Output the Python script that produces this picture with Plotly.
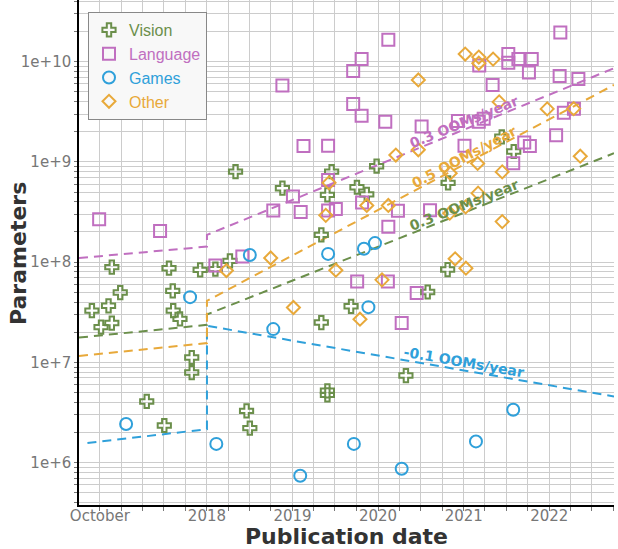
import math
import plotly.graph_objects as go

# scatter data
vision_dates = ["2016-08-28", "2016-10-06", "2016-11-07", "2016-11-21", "2016-12-27", "2016-11-21",
                "2017-04-19", "2017-07-03", "2017-07-23", "2017-08-08", "2017-08-10", "2017-09-08",
                "2017-10-28", "2017-10-28", "2017-12-03", "2018-02-06", "2018-04-09", "2018-05-03",
                "2018-06-19", "2018-07-03", "2018-11-19", "2019-06-17", "2019-05-30", "2019-05-04",
                "2019-10-03", "2019-11-14", "2019-12-26", "2020-10-26", "2021-06-12", "2021-08-02",
                "2020-10-24", "2019-05-04", "2019-09-08", "2020-07-31", "2019-05-30", "2019-05-30",
                "2020-04-29"]
vision_params = [3.29e7, 2.25e7, 3.67e7, 2.47e7, 4.98e7, 8.92e7,
                 4.08e6, 2.35e6, 8.71e7, 5.17e7, 3.29e7, 2.72e7,
                 1.12e7, 7.93e6, 8.38e7, 8.52e7, 1.03e8, 8.01e8,
                 3.29e6, 2.21e6, 5.47e8, 8.01e8, 4.69e8, 1.87e8,
                 5.59e8, 4.74e8, 9.06e8, 6.18e8, 1.78e9, 1.27e9,
                 8.44e7, 2.50e7, 3.63e7, 5.04e7, 5.21e6, 4.75e6,
                 7.40e6]

language_dates = ["2016-09-28", "2017-06-15", "2018-02-06", "2018-06-01", "2018-11-19", "2019-02-17",
                  "2018-10-11", "2019-01-03", "2019-02-05", "2019-06-02", "2019-06-02", "2019-06-02",
                  "2019-07-05", "2019-09-17", "2019-10-23", "2020-02-14", "2019-09-17", "2019-10-23",
                  "2020-02-01", "2020-07-05", "2020-12-07", "2021-03-06", "2021-03-27", "2021-01-04",
                  "2021-03-08", "2021-05-04", "2021-07-10", "2021-07-10", "2021-08-22", "2021-10-18",
                  "2021-10-06", "2022-02-17", "2022-02-14", "2022-05-05", "2022-03-04", "2022-04-16",
                  "2022-01-30", "2021-09-16", "2021-10-10", "2021-07-31", "2019-10-25", "2020-03-26",
                  "2020-08-10", "2020-02-14", "2019-10-04", "2020-02-12", "2020-06-14", "2020-04-11"]
language_params = [2.68e8, 2.05e8, 9.25e7, 1.14e8, 5.77e9, 1.44e9,
                   3.27e8, 4.51e8, 3.17e8, 1.45e9, 6.62e8, 3.27e8,
                   3.40e8, 8.08e9, 1.06e10, 1.65e10, 3.79e9, 2.89e9,
                   2.52e9, 2.25e9, 2.56e9, 2.51e9, 2.69e9, 1.45e9,
                   9.13e9, 5.86e9, 1.19e10, 9.77e9, 1.06e10, 1.06e10,
                   7.81e9, 1.95e10, 7.20e9, 6.72e9, 3.10e9, 3.40e9,
                   1.84e9, 1.56e9, 1.44e9, 9.71e8, 3.93e8, 3.25e8,
                   3.30e8, 2.26e8, 6.41e7, 6.41e7, 4.94e7, 2.47e7]

games_dates = ["2017-01-21", "2017-10-21", "2018-02-10", "2018-10-11", "2019-02-03", "2018-07-03",
               "2019-06-02", "2019-11-02", "2019-12-19", "2019-11-21", "2019-09-20", "2020-04-11",
               "2021-02-22", "2021-07-31"]
games_params = [2.43e6, 4.48e7, 1.54e6, 2.15e7, 7.40e5, 1.18e8,
                1.21e8, 1.36e8, 1.55e8, 3.56e7, 1.54e6, 8.70e5,
                1.63e6, 3.37e6]

other_dates = ["2018-03-25", "2018-09-30", "2019-01-05", "2020-06-21", "2021-01-07", "2021-03-06",
               "2021-05-06", "2021-03-06", "2021-06-01", "2021-12-23", "2022-04-15", "2020-03-17",
               "2020-06-21", "2019-06-06", "2019-11-14", "2020-02-14", "2019-05-23", "2021-03-01",
               "2021-06-14", "2020-11-04", "2021-03-03", "2021-01-09", "2020-11-02", "2021-06-14",
               "2022-05-13", "2019-07-05", "2020-11-25", "2021-01-10", "2020-01-18", "2019-10-16"]
other_params = [8.25e7, 1.10e8, 3.53e7, 6.57e9, 1.19e10, 1.11e10,
                1.06e10, 9.64e9, 3.97e9, 3.38e9, 3.40e9, 1.17e9,
                1.32e9, 6.18e8, 3.68e8, 3.68e8, 2.93e8, 9.66e8,
                7.95e8, 7.72e8, 4.88e8, 3.56e8, 3.08e8, 2.54e8,
                1.14e9, 8.32e7, 1.08e8, 8.71e7, 6.66e7, 2.70e7]

# trend lines: pre-2018 fit, jump at 2018, post-2018 fit
trend_dates = ["2016-07-04", "2018-01-01", "2018-01-01", "2022-10-04"]
games_trend_dates = ["2016-08-09", "2018-01-01", "2018-01-01", "2022-10-04"]
language_trend = [1.10e8, 1.43e8, 1.87e8, 8.60e9]
vision_trend = [1.77e7, 2.37e7, 3.01e7, 1.22e9]
other_trend = [1.16e7, 1.56e7, 4.12e7, 5.86e9]
games_trend = [1.57e6, 2.16e6, 2.32e7, 4.57e6]
trend_labels = ["0.3 OOMs/year", "0.3 OOMs/year", "-0.1 OOMs/year", "0.5 OOMs/year"]
label_date = "2021-01-01"

x_range = ["2016-07-04", "2022-10-04"]
y_range = [5.578, 10.615]

colors = {"Vision": "#6b8f4b", "Language": "#c06fc0", "Games": "#2fa0da", "Other": "#e8a93a"}
symbols = {"Vision": "cross-open", "Language": "square-open", "Games": "circle-open", "Other": "diamond-open"}
sizes = {"Vision": 11, "Language": 12, "Games": 12, "Other": 10}

W, H = 618, 549
M = dict(l=79, r=4, t=0, b=44)


def year_of(d):
    y, m, dd = (int(p) for p in d.split("-"))
    return y + (m - 1) / 12 + (dd - 1) / 365


fig = go.Figure()

series = [
    ("Vision", vision_dates, vision_params, trend_dates, vision_trend),
    ("Language", language_dates, language_params, trend_dates, language_trend),
    ("Games", games_dates, games_params, games_trend_dates, games_trend),
    ("Other", other_dates, other_params, trend_dates, other_trend),
]

# dashed trend lines first so markers sit on top
for name, _, _, tdates, tvals in series:
    fig.add_trace(go.Scatter(
        x=tdates, y=tvals, mode="lines", showlegend=False, hoverinfo="skip",
        line=dict(color=colors[name], width=2, dash="9px,6px"),
    ))

for name, dates, vals, _, _ in series:
    fig.add_trace(go.Scatter(
        x=dates, y=vals, mode="markers",
        name='<span style="color:%s">%s</span>' % (colors[name], name),
        marker=dict(symbol=symbols[name], size=sizes[name], color=colors[name],
                    line=dict(width=2, color=colors[name])),
    ))

# rotated slope labels along the post-2018 part of each trend line
plot_w = W - M["l"] - M["r"]
plot_h = H - M["t"] - M["b"]
px_year = plot_w / (year_of(x_range[1]) - year_of(x_range[0]))
px_dec = plot_h / (y_range[1] - y_range[0])
label_order = ["Language", "Vision", "Games", "Other"]
lookup = {s[0]: s for s in series}
for name, text in zip(label_order, trend_labels):
    _, _, _, tdates, tvals = lookup[name]
    y0, y1 = year_of(tdates[2]), year_of(tdates[3])
    l0, l1 = math.log10(tvals[2]), math.log10(tvals[3])
    slope = (l1 - l0) / (y1 - y0)
    ly = l0 + slope * (year_of(label_date) - y0)
    angle = -math.degrees(math.atan(slope * px_dec / px_year))
    fig.add_annotation(
        x=label_date, y=ly, text="<b>%s</b>" % text, showarrow=False,
        textangle=angle, yshift=8,
        font=dict(family="DejaVu Sans", size=14, color=colors[name]),
    )

# axis titles as paper annotations so the plot area stays put
title_font = dict(family="DejaVu Sans", size=22, color="#333333")
fig.add_annotation(xref="paper", yref="paper", x=-61 / plot_w, y=0.497,
                   text="<b>Parameters</b>", textangle=-90, showarrow=False,
                   xanchor="center", yanchor="middle", font=title_font)
fig.add_annotation(xref="paper", yref="paper", x=0.5, y=-31 / plot_h,
                   text="<b>Publication date</b>", showarrow=False,
                   xanchor="center", yanchor="middle", font=title_font)

grid = "#cccccc"
fig.update_layout(
    width=W, height=H, margin=M,
    plot_bgcolor="white", paper_bgcolor="white",
    font=dict(family="DejaVu Sans", size=15, color="#777777"),
    legend=dict(
        x=9 / plot_w, y=1 - 12 / plot_h, xanchor="left", yanchor="top",
        bgcolor="#f8f8f8", bordercolor="#888888", borderwidth=1,
        itemwidth=30,
        font=dict(family="Liberation Sans", size=16),
    ),
    xaxis=dict(
        type="date", range=x_range, automargin=False,
        tickmode="array",
        tickvals=["2016-10-01", "2018-01-01", "2019-01-01", "2020-01-01", "2021-01-01", "2022-01-01"],
        ticktext=["October", "2018", "2019", "2020", "2021", "2022"],
        ticks="outside", ticklen=4, tickcolor="#777777", ticklabelstandoff=-8,
        showgrid=True, gridcolor=grid, gridwidth=1,
        minor=dict(dtick="M3", tick0="2016-01-01", showgrid=True, gridcolor=grid,
                   ticks="outside", ticklen=4, tickcolor="#777777"),
        showline=True, linecolor="black", linewidth=1.5,
        zeroline=False,
    ),
    yaxis=dict(
        type="log", range=y_range, automargin=False,
        tickmode="array",
        tickvals=[1e6, 1e7, 1e8, 1e9, 1e10],
        ticktext=["1e+6", "1e+7", "1e+8", "1e+9", "1e+10"],
        ticks="outside", ticklen=3, tickcolor="#777777",
        showgrid=True, gridcolor=grid, gridwidth=1,
        minor=dict(dtick="D1", showgrid=True, gridcolor=grid,
                   ticks="outside", ticklen=3, tickcolor="#777777"),
        showline=True, linecolor="black", linewidth=1.5,
        zeroline=False,
    ),
)

# the page body has a default 8px margin; drop it so the figure fills the window
fig.write_html("out.html", config={"displayModeBar": False},
               post_script="document.body.style.margin='0';")
